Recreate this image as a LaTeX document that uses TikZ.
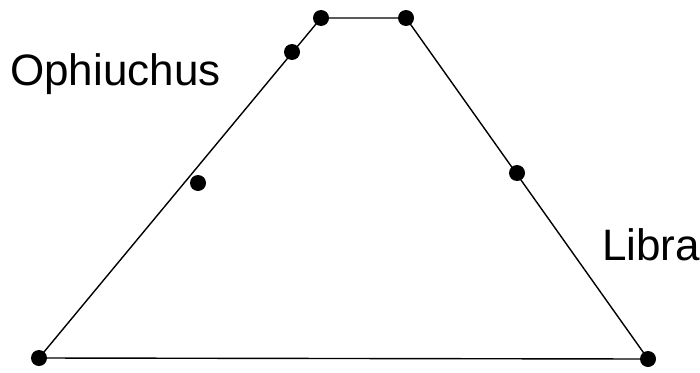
\documentclass[tikz,border=0pt]{standalone}
\usepackage{fontspec}
\setmainfont{Liberation Sans}
\begin{document}
\begin{tikzpicture}[x=1pt,y=-1pt,
  dot/.style={circle,fill=black,inner sep=0pt,minimum size=16pt},
  edge/.style={draw=black,line width=1.4pt},
  lbl/.style={inner sep=0pt,anchor=base west,font=\fontsize{44}{50}\selectfont}]
\useasboundingbox (0,0) rectangle (700,372);
\node[dot] (bl) at (39,358) {};
\node[dot] (br) at (648,359) {};
\node[dot] (tl) at (321,18) {};
\node[dot] (tr) at (406,18) {};
\node[dot] (l1) at (292,52) {};
\node[dot] (l2) at (198,183) {};
\node[dot] (r1) at (517,173) {};
\path[edge] (bl.center) -- (tl.center) -- (tr.center) -- (br.center);
\path[edge] (bl.center) -- (br.center);
\node[lbl] (oph) at (10,85) {Ophiuchus};
\node[lbl] (lib) at (602,260) {Libra};
\end{tikzpicture}
\end{document}
